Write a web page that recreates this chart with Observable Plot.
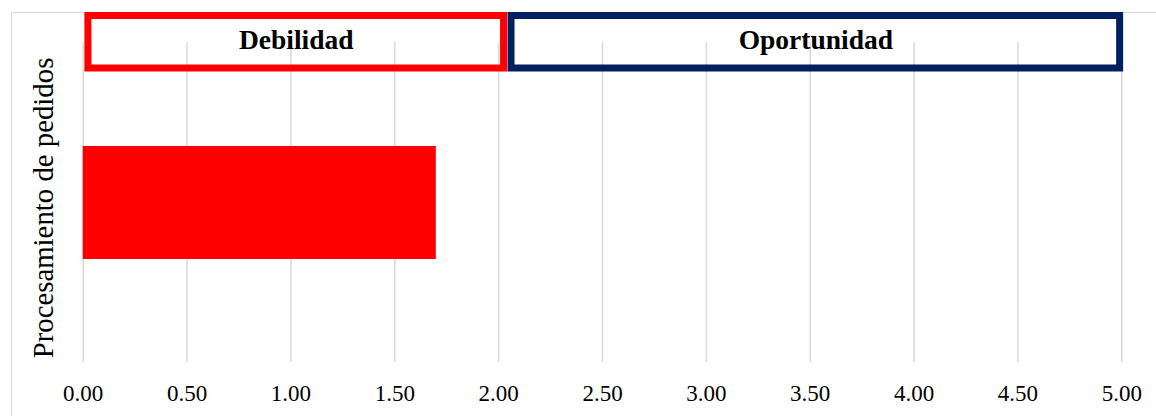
<!DOCTYPE html>
<html><head><meta charset="utf-8">
<script src="https://cdn.jsdelivr.net/npm/d3@7"></script>
<script src="https://cdn.jsdelivr.net/npm/@observablehq/plot@0.6"></script>
<style>
html,body{margin:0;padding:0;background:#fff;}
#wrap{position:relative;width:1156px;height:416px;overflow:hidden;background:#fff;}
#border{position:absolute;left:11px;top:12px;width:1200px;height:500px;border-left:1.5px solid #d9d9d9;border-top:1.5px solid #d9d9d9;}
#chart{position:absolute;left:0;top:0;}
</style></head><body>
<div id="wrap"><div id="border"></div><div id="chart"></div></div>
<script>
// Data
const categories = ["Procesamiento de pedidos"];
const values = [1.70];
const xTicks = [0, 0.5, 1, 1.5, 2, 2.5, 3, 3.5, 4, 4.5, 5];
const zoneNames = ["Debilidad", "Oportunidad"];
const zoneStart = [0.025, 2.062];
const zoneEnd = [2.026, 4.992];
const zoneColors = ["#ff0000", "#002060"];

const bars = categories.map((c, i) => ({category: c, value: values[i]}));
const zones = zoneNames.map((n, i) => ({name: n, x1: zoneStart[i], x2: zoneEnd[i], color: zoneColors[i], mid: (zoneStart[i] + zoneEnd[i]) / 2}));

const font = "'Liberation Serif', 'Times New Roman', serif";

const chart = Plot.plot({
  width: 1156,
  height: 416,
  marginLeft: 82.7,
  marginRight: 34.7,
  marginTop: 42,
  marginBottom: 54,
  style: {fontFamily: font, background: "transparent", color: "#000"},
  x: {domain: [0, 5], axis: null},
  y: {domain: categories, padding: 0.478, axis: null},
  marks: [
    Plot.gridX(xTicks, {stroke: "#d9d9d9", strokeOpacity: 1, strokeWidth: 1.5}),
    Plot.barX(bars, {x: "value", y: "category", fill: "#ff0000"}),
    Plot.axisX(xTicks, {tickSize: 0, tickPadding: 22, tickFormat: d3.format(".2f"), fontSize: 23, fill: "#000", label: null}),
    Plot.text(categories, {y: d => d, frameAnchor: "left", dx: -39, dy: 5, rotate: -90, fontSize: 28.8, textAnchor: "middle", lineAnchor: "middle", fill: "#000"}),
    Plot.rect(zones, {x1: "x1", x2: "x2", stroke: "color", fill: "none", strokeWidth: 7, insetTop: -26.5, insetBottom: 294}),
    Plot.text(zones, {x: "mid", text: "name", frameAnchor: "top", lineAnchor: "middle", dy: -2, fontSize: 27.5, fontWeight: "bold", fill: "#000"})
  ]
});
document.getElementById("chart").appendChild(chart);
</script>
</body></html>
